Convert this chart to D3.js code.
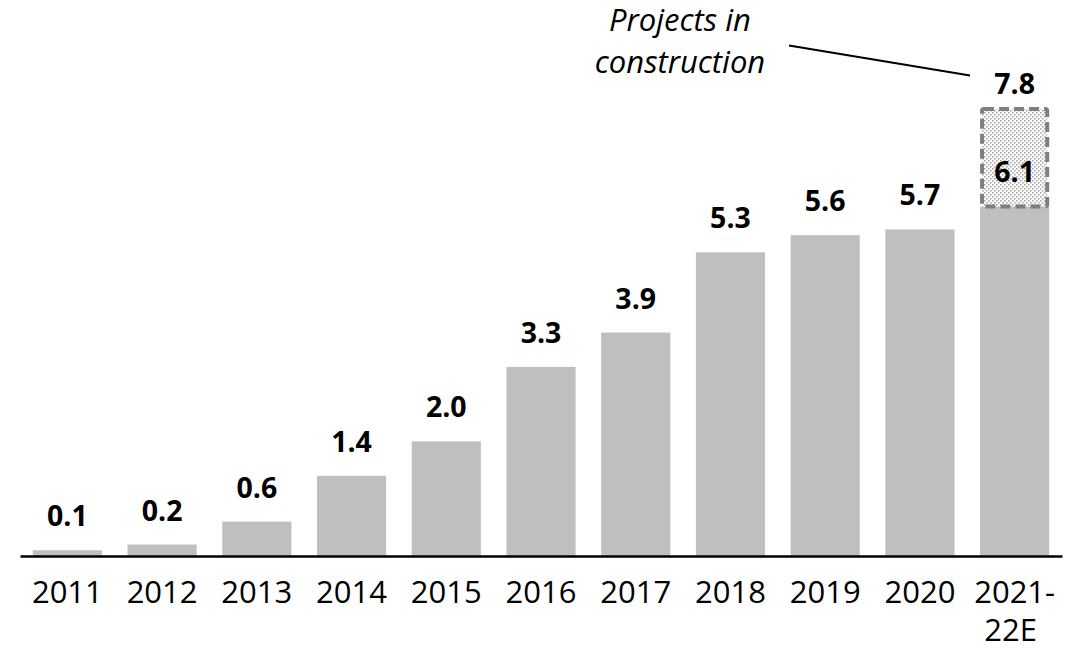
<!DOCTYPE html>
<html>
<head>
<meta charset="utf-8">
<script src="https://cdn.jsdelivr.net/npm/d3@7"></script>
<style>
  body { margin: 0; background: #fff; }
  svg text { font-family: "Open Sans", sans-serif; }
</style>
</head>
<body>
<svg id="chart" width="1079" height="650"></svg>
<script>
var years = ["2011", "2012", "2013", "2014", "2015", "2016", "2017", "2018", "2019", "2020", "2021-22E"];
var values = [0.1, 0.2, 0.6, 1.4, 2.0, 3.3, 3.9, 5.3, 5.6, 5.7, 6.1];
// projects in construction, stacked on the last bar
var constructionTotal = 7.8;
var tickLines = {"2021-22E": ["2021-", "22E"]};

var svg = d3.select("#chart"),
  width = +svg.attr("width"),
  height = +svg.attr("height"),
  baseY = 556;

var x = d3.scaleBand()
  .domain(years)
  .range([20, 1062])
  .paddingInner(0.27)
  .paddingOuter(0.135);

var y = d3.scaleLinear()
  .domain([0, 9])
  .range([baseY, baseY - 9 * 57.3]);

// dotted fill for the dashed box
var defs = svg.append("defs");
var pat = defs.append("pattern")
  .attr("id", "dots")
  .attr("patternUnits", "userSpaceOnUse")
  .attr("width", 4)
  .attr("height", 4);
pat.append("rect").attr("width", 4).attr("height", 4).attr("fill", "#ffffff");
pat.append("rect").attr("x", 0).attr("y", 0).attr("width", 1.6).attr("height", 1.6).attr("fill", "#aaaaaa");
pat.append("rect").attr("x", 2).attr("y", 2).attr("width", 1.6).attr("height", 1.6).attr("fill", "#aaaaaa");

var g = svg.append("g");

g.selectAll("rect.bar")
  .data(values)
  .enter().append("rect")
  .attr("class", "bar")
  .attr("x", function (d, i) { return x(years[i]); })
  .attr("y", function (d) { return y(d); })
  .attr("width", x.bandwidth())
  .attr("height", function (d) { return baseY - y(d); })
  .attr("fill", "#bfbfbf");

var last = years[years.length - 1];
var lastVal = values[values.length - 1];

g.append("rect")
  .attr("x", x(last) + 2)
  .attr("y", y(constructionTotal))
  .attr("width", x.bandwidth() - 4)
  .attr("height", y(lastVal) - y(constructionTotal))
  .attr("fill", "url(#dots)")
  .attr("stroke", "#7f7f7f")
  .attr("stroke-width", 4)
  .attr("stroke-dasharray", "10,5")
  .attr("rx", 2);

// value labels
g.selectAll("text.val")
  .data(values)
  .enter().append("text")
  .attr("class", "val")
  .attr("text-anchor", "middle")
  .attr("x", function (d, i) { return x(years[i]) + x.bandwidth() / 2; })
  .attr("y", function (d) { return y(d) - 24; })
  .attr("font-size", 28.5)
  .attr("font-weight", "bold")
  .attr("fill", "#000")
  .text(function (d) { return d.toFixed(1); });

g.append("text")
  .attr("text-anchor", "middle")
  .attr("x", x(last) + x.bandwidth() / 2)
  .attr("y", y(constructionTotal) - 15)
  .attr("font-size", 28.5)
  .attr("font-weight", "bold")
  .text(constructionTotal.toFixed(1));

// axis
var axis = g.append("g")
  .attr("transform", "translate(0," + baseY + ")")
  .call(d3.axisBottom(x).tickSize(0).tickPadding(0));

axis.select(".domain")
  .attr("stroke", "#000")
  .attr("stroke-width", 2.5);

axis.selectAll(".tick text")
  .attr("font-size", 31)
  .attr("font-family", "Open Sans")
  .attr("fill", "#000")
  .attr("dy", null)
  .attr("y", 47)
  .each(function (d) {
    var lines = tickLines[d];
    if (!lines) return;
    var t = d3.select(this).text(null);
    lines.forEach(function (l, i) {
      t.append("tspan")
        .attr("x", i == 0 ? 0 : -4)
        .attr("y", 47 + i * 38)
        .text(l);
    });
  });

// annotation
var note = g.append("text")
  .attr("text-anchor", "middle")
  .attr("font-size", 31)
  .attr("font-style", "italic")
  .attr("fill", "#000");
note.append("tspan").attr("x", 680).attr("y", 31).text("Projects in");
note.append("tspan").attr("x", 680).attr("y", 73).text("construction");

g.append("line")
  .attr("x1", 789).attr("y1", 45.5)
  .attr("x2", 970).attr("y2", 75.5)
  .attr("stroke", "#000")
  .attr("stroke-width", 2);
</script>
</body>
</html>
